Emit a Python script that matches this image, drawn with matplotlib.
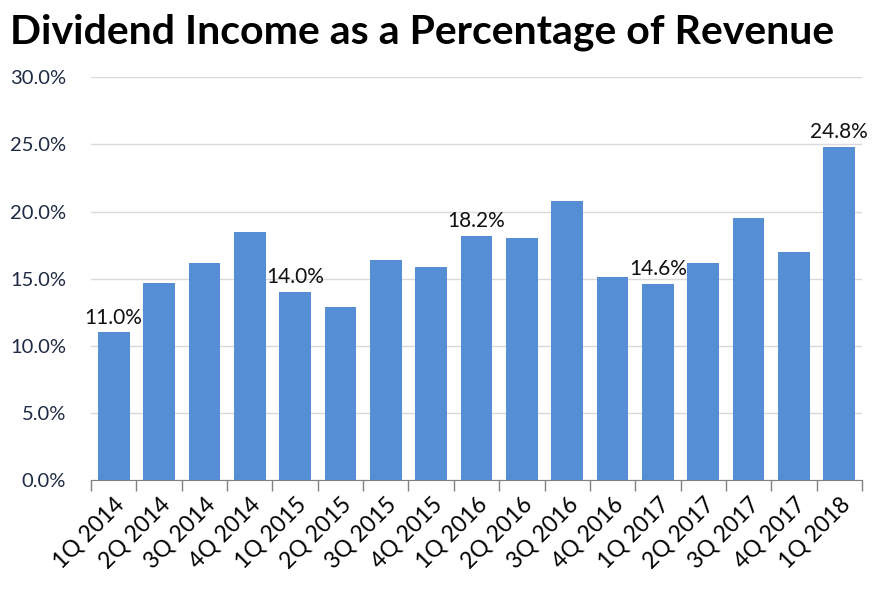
import numpy as np
import matplotlib.pyplot as plt
from matplotlib.ticker import FuncFormatter, FixedLocator

quarters = ['1Q 2014', '2Q 2014', '3Q 2014', '4Q 2014', '1Q 2015', '2Q 2015',
            '3Q 2015', '4Q 2015', '1Q 2016', '2Q 2016', '3Q 2016', '4Q 2016',
            '1Q 2017', '2Q 2017', '3Q 2017', '4Q 2017', '1Q 2018']
dividend_pct = [11.0, 14.7, 16.2, 18.5, 14.0, 12.9, 16.4, 15.9, 18.2, 18.0,
                20.8, 15.1, 14.6, 16.2, 19.5, 17.0, 24.8]
# only a few bars carry a data label in the original
labelled = ['1Q 2014', '1Q 2015', '1Q 2016', '1Q 2017', '1Q 2018']

plt.rcParams['font.family'] = ['Lato', 'DejaVu Sans']

fig = plt.figure(figsize=(8.74, 5.90), dpi=100)
ax = fig.add_axes([91/874, 1-480/590, (862-91)/874, (480-77.3)/590])

x = np.arange(len(quarters))
bars = ax.bar(x, dividend_pct, width=0.7, color='#558ED5', zorder=3)

for xi, q, v in zip(x, quarters, dividend_pct):
    if q in labelled:
        ax.text(xi, v + 0.35, f'{v:.1f}%', ha='center', va='bottom',
                fontsize=15, color='#111111', zorder=4)

ax.set_xlim(-0.5, len(quarters) - 0.5)
ax.set_ylim(0, 30)
ax.set_yticks(np.arange(0, 30.1, 5))
ax.yaxis.set_major_formatter(FuncFormatter(lambda v, p: f'{v:.1f}%'))
ax.grid(axis='y', color='#D9D9D9', linewidth=1, zorder=0)

ax.set_xticks(x)
ax.set_xticklabels(quarters, rotation=45, ha='right', rotation_mode='anchor',
                   fontsize=16.5, color='black')
ax.tick_params(axis='x', which='major', length=0, pad=10)
ax.xaxis.set_minor_locator(FixedLocator(np.arange(-0.5, len(quarters), 1)))
ax.tick_params(axis='x', which='minor', length=8, color='#808080', width=1)
ax.tick_params(axis='y', length=0, labelsize=14.5, labelcolor='#1F2A44', pad=18)

for side in ['top', 'right', 'left']:
    ax.spines[side].set_visible(False)
ax.spines['bottom'].set_color('#808080')

fig.text(10/874, 1-32/590, 'Dividend Income as a Percentage of Revenue',
         fontsize=29.5, fontweight='bold', va='center', ha='left')

fig.savefig('out.png', dpi=100)
